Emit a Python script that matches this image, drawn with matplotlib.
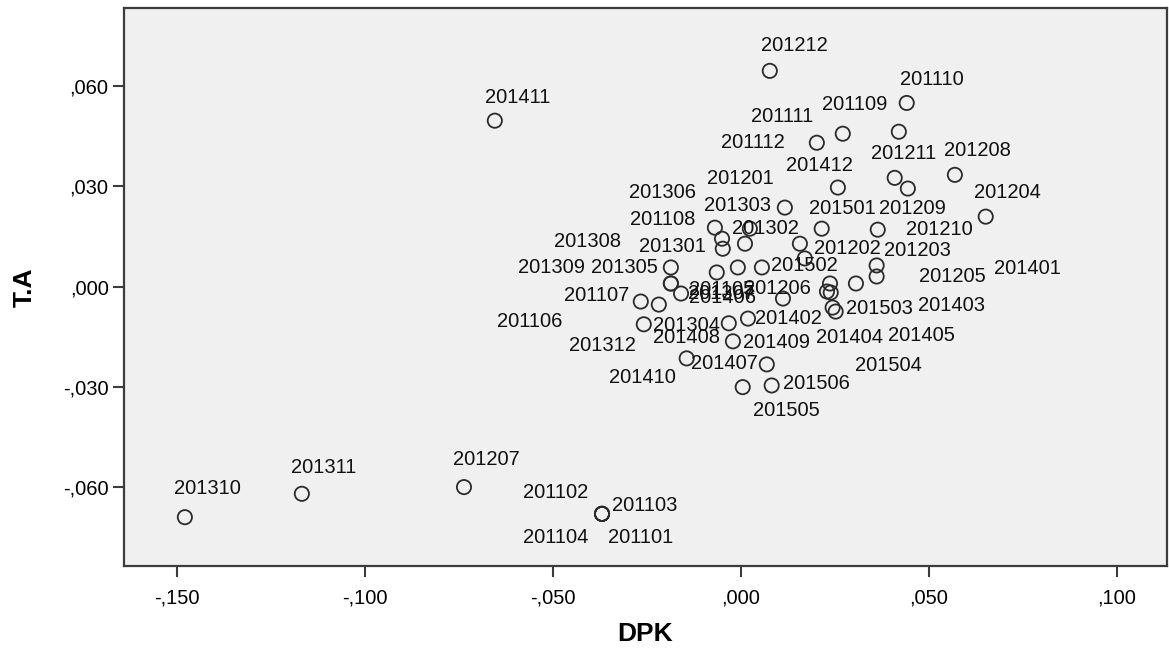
import matplotlib
matplotlib.use('Agg')
import matplotlib.pyplot as plt
from matplotlib.ticker import FuncFormatter

plt.rcParams['font.family'] = ['Liberation Sans', 'DejaVu Sans']

# periodo (AAAAMM), DPK, T.A
periodos = [
    '201101', '201102', '201103', '201104', '201105', '201106',
    '201107', '201108', '201109', '201110', '201111', '201112',
    '201201', '201202', '201203', '201204', '201205', '201206',
    '201207', '201208', '201209', '201210', '201211', '201212',
    '201301', '201302', '201303', '201304', '201305', '201306',
    '201307', '201308', '201309', '201310', '201311', '201312',
    '201401', '201402', '201403', '201404', '201405', '201406',
    '201407', '201408', '201409', '201410', '201411', '201412',
    '201501', '201502', '201503', '201504', '201505', '201506',
]
dpk = [
    -0.0369, -0.0369, -0.0369, -0.0369, -0.0186, -0.0218,
    -0.0266, -0.0048, 0.0420, 0.0441, 0.0271, 0.0202,
    0.0117, 0.0157, 0.0361, 0.0651, 0.0361, 0.0056,
    -0.0736, 0.0569, 0.0444, 0.0364, 0.0409, 0.0077,
    0.0011, 0.0024, -0.0050, -0.0032, -0.0186, -0.0069,
    -0.0186, -0.0064, -0.0008, -0.1478, -0.1167, -0.0258,
    0.0306, 0.0112, 0.0237, 0.0244, 0.0252, -0.0159,
    0.0069, 0.0019, -0.0021, -0.0144, -0.0654, 0.0258,
    0.0215, 0.0170, 0.0239, 0.0229, 0.0005, 0.0082,
]
ta = [
    -0.0680, -0.0680, -0.0680, -0.0680, 0.0009, -0.0054,
    -0.0045, 0.0113, 0.0463, 0.0549, 0.0457, 0.0430,
    0.0236, 0.0128, 0.0063, 0.0209, 0.0030, 0.0057,
    -0.0600, 0.0334, 0.0293, 0.0170, 0.0325, 0.0645,
    0.0128, 0.0173, 0.0143, -0.0110, 0.0057, 0.0176,
    0.0009, 0.0042, 0.0057, -0.0690, -0.0620, -0.0113,
    0.0009, -0.0036, 0.0009, -0.0063, -0.0075, -0.0021,
    -0.0233, -0.0096, -0.0164, -0.0215, 0.0496, 0.0296,
    0.0173, 0.0084, -0.0018, -0.0015, -0.0301, -0.0296,
]

# deslocamento dos rotulos (pixels) como o SPSS colocou
rotulo_dx = [
    39, -46, 43, -46, 51, -129, -44, -60, -44, 25, -61, -64,
    -44, 47, 41, 22, 76, 16, 22, 23, 5, 62, 9, 25,
    -73, 16, 15, -42, -46, -52, 51, -129, -186, 23, 22, -41,
    171, 5, 122, 17, 86, 41, -42, -61, 44, -44, 23, -18,
    21, 0, 49, 61, 44, 45,
]
rotulo_dy = [
    -24, 21, 8, -24, -6, -17, 6, 29, 27, 23, 17, 0,
    29, -5, 15, 24, 0, -21, 28, 24, -20, 0, 24, 25,
    -3, 0, 33, -2, 0, 35, -10, 31, 0, 29, 26, -21,
    15, -20, -22, -30, -24, -4, 1, -19, -1, -19, 23, 22,
    20, -7, -16, -74, -23, 2,
]


def formato_spss(v, pos):
    s = f"{v:.3f}"
    return s.replace('0.', ',')


fig = plt.figure(figsize=(11.69, 6.57), dpi=100)
ax = fig.add_axes([0.106, 0.1385, 0.892, 0.8493])
ax.set_facecolor('#f0f0f0')

ax.scatter(dpk, ta, s=105, facecolors='none', edgecolors='#2b2b2b', linewidths=1.3, zorder=3)

for p, x, y, dx, dy in zip(periodos, dpk, ta, rotulo_dx, rotulo_dy):
    ax.annotate(p, (x, y), xytext=(dx, dy), textcoords='offset pixels',
                ha='center', va='center', fontsize=14.5, color='#111111', zorder=4)

ax.set_xlim(-0.164, 0.1132)
ax.set_ylim(-0.0836, 0.0833)
ax.set_xticks([-0.15, -0.10, -0.05, 0.0, 0.05, 0.10])
ax.set_yticks([-0.06, -0.03, 0.0, 0.03, 0.06])
ax.xaxis.set_major_formatter(FuncFormatter(formato_spss))
ax.yaxis.set_major_formatter(FuncFormatter(formato_spss))
ax.tick_params(direction='out', length=8, width=1.5, color='#3c3c3c', labelsize=14.5, pad=3)
ax.tick_params(axis='x', pad=8)

for lado in ax.spines.values():
    lado.set_color('#3c3c3c')
    lado.set_linewidth(1.6)

ax.set_xlabel('DPK', fontsize=19, fontweight='bold')
ax.set_ylabel('T.A', fontsize=19, fontweight='bold')
ax.xaxis.set_label_coords(0.5, -0.1)
ax.yaxis.set_label_coords(-0.084, 0.5)

plt.savefig('out.png', dpi=100, facecolor='white')
plt.close()
